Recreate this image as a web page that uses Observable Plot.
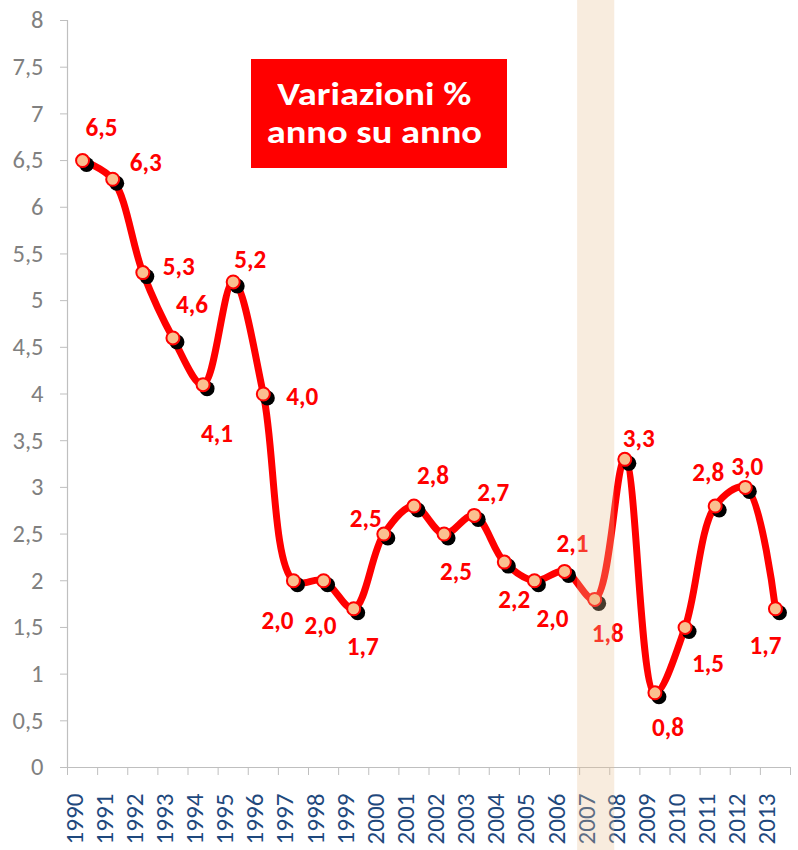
<!DOCTYPE html>
<html>
<head>
<meta charset="utf-8">
<script src="https://cdn.jsdelivr.net/npm/d3@7"></script>
<script src="https://cdn.jsdelivr.net/npm/@observablehq/plot@0.6"></script>
<style>
  html, body { margin: 0; padding: 0; background: #ffffff; }
  #wrap { position: relative; width: 798px; height: 850px; overflow: hidden; }
  #title {
    position: absolute; left: 251px; top: 59px; width: 256px; height: 109px;
    background: #ff0000; color: #ffffff;
    font-family: Carlito, Lato, "Open Sans", sans-serif; font-weight: bold;
    line-height: 40px; text-align: center;
    display: flex; flex-direction: column; justify-content: center; align-items: center;
  }
  #title .t { margin-right: 10px; margin-top: -2px; white-space: nowrap; transform-origin: center; }
</style>
</head>
<body>
<div id="wrap">
  <div id="chart"></div>
  <div id="title"><div class="t">Variazioni %</div><div class="t">anno su anno</div></div>
</div>
<script>
// ---- data ----
const years  = [1990,1991,1992,1993,1994,1995,1996,1997,1998,1999,2000,2001,2002,2003,2004,2005,2006,2007,2008,2009,2010,2011,2012,2013];
const values = [6.5,6.3,5.3,4.6,4.1,5.2,4.0,2.0,2.0,1.7,2.5,2.8,2.5,2.7,2.2,2.0,2.1,1.8,3.3,0.8,1.5,2.8,3.0,1.7];
const yTicks = [0,0.5,1,1.5,2,2.5,3,3.5,4,4.5,5,5.5,6,6.5,7,7.5,8];
const highlightYear = 2007;

// label placement (pixel offsets from each point), styling only
const labelOffsets = [[19,-33],[33,-16],[36,-6],[19,-33],[14,49],[17,-22],[39,3],[-16,40],[-3,45],[9,38],[-18,-15],[19,-30],[12,38],[19,-22],[10,38],[18,38],[8,-27],[13,35],[14,-20],[13,35],[23,36],[-7,-33],[2,-20],[-10,37]];

const data = years.map((yr, i) => ({year: yr, value: values[i]}));
const boundaries = years.map(y => y - 0.5).concat([years[years.length - 1] + 0.5]);
const fmt1 = d => d.toFixed(1).replace(".", ",");

const FONT = "Carlito, Lato, 'Open Sans', sans-serif";
const RED = "#ff0000";

// size fonts so rendered widths match the reference, whichever font is available
const ctx = document.createElement("canvas").getContext("2d");
function fitSize(text, weight, target) {
  ctx.font = `${weight} 100px ${FONT}`;
  return 100 * target / ctx.measureText(text).width;
}
const xLabelSize = fitSize("1990", "normal", 51);
const yLabelSize = fitSize("7,5", "normal", 31);
const dataLabelSize = fitSize("6,5", "bold", 32);
const titleFit = fitSize("Variazioni %", "bold", 194);
const titleSize = Math.min(titleFit, 33);
document.getElementById("title").style.fontSize = titleSize + "px";
document.querySelectorAll("#title .t").forEach(el => el.style.transform = `scaleX(${titleFit / titleSize})`);

const labelMarks = data.map((d, i) => Plot.text([d], {
  x: "year", y: "value", text: dd => fmt1(dd.value),
  dx: labelOffsets[i][0], dy: labelOffsets[i][1],
  fill: RED, fontWeight: "bold", fontSize: dataLabelSize
}));

const plot = Plot.plot({
  width: 798,
  height: 850,
  marginLeft: 67,
  marginRight: 8,
  marginTop: 20,
  marginBottom: 83,
  style: {fontFamily: FONT, background: "transparent"},
  x: {type: "linear", domain: [boundaries[0], boundaries[boundaries.length - 1]]},
  y: {domain: [0, 8]},
  marks: [
    // axes
    Plot.ruleY([0], {stroke: "#bfbfbf", strokeWidth: 1.2}),
    Plot.ruleX([boundaries[0]], {stroke: "#bfbfbf", strokeWidth: 1.2}),
    Plot.axisY({ticks: yTicks, tickSize: 7, tickPadding: 17, tickFormat: d => String(d).replace(".", ","),
      fontSize: yLabelSize, fill: "#808080", stroke: "#bfbfbf", label: null}),
    Plot.axisX({ticks: boundaries, tickSize: 8, tickFormat: () => "", stroke: "#bfbfbf", label: null}),
    Plot.text(years, {x: d => d, frameAnchor: "bottom", text: d => String(d), rotate: -90,
      textAnchor: "end", dy: 26, fontSize: xLabelSize, fill: "#1f497d"}),
    // series
    Plot.line(data, {x: "year", y: "value", curve: "catmull-rom", stroke: RED, strokeWidth: 7,
      strokeLinejoin: "round", strokeLinecap: "round"}),
    Plot.dot(data, {x: "year", y: "value", r: 7.5, fill: "#000000", dx: 4, dy: 4}),
    Plot.dot(data, {x: "year", y: "value", r: 6.5, fill: "#fac090", stroke: RED, strokeWidth: 2}),
    ...labelMarks
  ]
});

// highlight band for the chosen year, on top (semi-transparent), spanning full height
const xs = plot.scale("x");
const svg = d3.select(plot);
const x1 = xs.apply(highlightYear - 0.5) - 2;
const x2 = xs.apply(highlightYear + 0.5) + 5;
svg.append("rect")
  .attr("x", x1).attr("y", 0)
  .attr("width", x2 - x1).attr("height", 850)
  .attr("fill", "rgb(232,193,147)").attr("fill-opacity", 0.3);

document.getElementById("chart").appendChild(plot);
</script>
</body>
</html>
